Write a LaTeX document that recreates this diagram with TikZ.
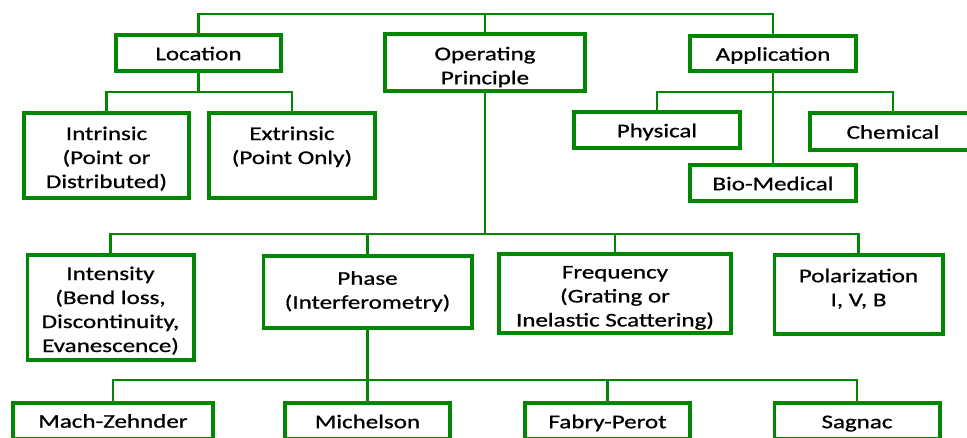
\documentclass[tikz,border=0pt]{standalone}
\usepackage{fontspec}
\setmainfont[FakeStretch=1.29,FakeBold=0.8]{Carlito}
\definecolor{tgreen}{RGB}{0,135,0}
\newcommand{\topstrut}[1]{\rule{0pt}{#1}}
\begin{document}
\begin{tikzpicture}[x=1pt,y=-1pt,
 box/.style={draw=tgreen,line width=3.7pt,fill=white,align=center,inner sep=0pt,
   font=\fontsize{19.4}{24}\selectfont,text=black,
   execute at begin node={\rule{0pt}{#1}},
   execute at end node={\rule[-6.6pt]{0pt}{0pt}}},
 box/.default=21pt,
 conn/.style={draw=tgreen,line width=2.2pt}]
\useasboundingbox (0,0) rectangle (967,437);
\clip (0,0) rectangle (967,437);
\fill[white] (0,0) rectangle (967,437);
\coordinate (bar0) at (0,14);
\coordinate (bar1) at (0,92);
\coordinate (bar2) at (0,234);
\coordinate (bar3) at (0,380);
% nodes
\node[box,minimum width=165.3pt,minimum height=36.3pt] (loc) at (198.5,53) {Location};
\node[box,minimum width=200.3pt,minimum height=55.3pt] (op) at (485,62.5) {\topstrut{26pt}Operating\\Principle};
\node[box,minimum width=166.3pt,minimum height=35.3pt] (app) at (773,53.5) {Application};
\node[box,minimum width=165.3pt,minimum height=85.3pt] (intr) at (106.5,155.5) {\topstrut{23.6pt}Intrinsic\\(Point or\\Distributed)};
\node[box,minimum width=166.3pt,minimum height=85.3pt] (extr) at (292,155.5) {\topstrut{23.6pt}Extrinsic\\(Point Only)\\\mbox{}};
\node[box,minimum width=166.3pt,minimum height=36.3pt] (phys) at (657,130) {Physical};
\node[box,minimum width=166.3pt,minimum height=37.3pt] (chem) at (893,131.5) {Chemical};
\node[box,minimum width=166.3pt,minimum height=36.3pt] (bio) at (773,183) {Bio-Medical};
\node[box,minimum width=166.3pt,minimum height=105.3pt] (inten) at (110.5,307.5) {\topstrut{23.6pt}Intensity\\(Bend loss,\\Discontinuity,\\Evanescence)};
\node[box,minimum width=208.3pt,minimum height=72.3pt] (phase) at (367.5,292) {\topstrut{16pt}Phase\\(Interferometry)};
\node[box,minimum width=232.3pt,minimum height=77.3pt] (freq) at (615,293.5) {\topstrut{24.5pt}Frequency\\(Grating or\\Inelastic Scattering)};
\node[box,minimum width=168.3pt,minimum height=79.3pt] (pol) at (858.5,294.5) {\topstrut{18pt}Polarization\\I, V, B\rule[-18.6pt]{0pt}{0pt}};
\node[box=20pt,minimum width=200.3pt,minimum height=36.3pt] (mz) at (113,421) {Mach-Zehnder};
\node[box,minimum width=165.3pt,minimum height=36.3pt] (mich) at (367.5,421) {Michelson};
\node[box,minimum width=165.3pt,minimum height=36.3pt] (fp) at (607.5,421) {Fabry-Perot};
\node[box,minimum width=165.3pt,minimum height=36.3pt] (sag) at (857,421) {Sagnac};
% connectors
\draw[conn] (loc.north) -- (loc.north |- bar0) -| (app.north);
\draw[conn] (op.north) -- (op.north |- bar0);
\draw[conn] (loc.south) -- (loc.south |- bar1);
\draw[conn] (intr.north) -- (intr.north |- bar1) -| (extr.north);
\draw[conn] (app.south) -- (bio.north);
\draw[conn] (phys.north) -- (phys.north |- bar1) -| (chem.north);
\draw[conn] (op.south) -- (op.south |- bar2);
\draw[conn] (inten.north) -- (inten.north |- bar2) -| (pol.north);
\draw[conn] (phase.north) -- (phase.north |- bar2);
\draw[conn] (freq.north) -- (freq.north |- bar2);
\draw[conn] (phase.south) -- (mich.north);
\draw[conn] (mz.north) -- (mz.north |- bar3) -| (sag.north);
\draw[conn] (fp.north) -- (fp.north |- bar3);
\end{tikzpicture}
\end{document}
